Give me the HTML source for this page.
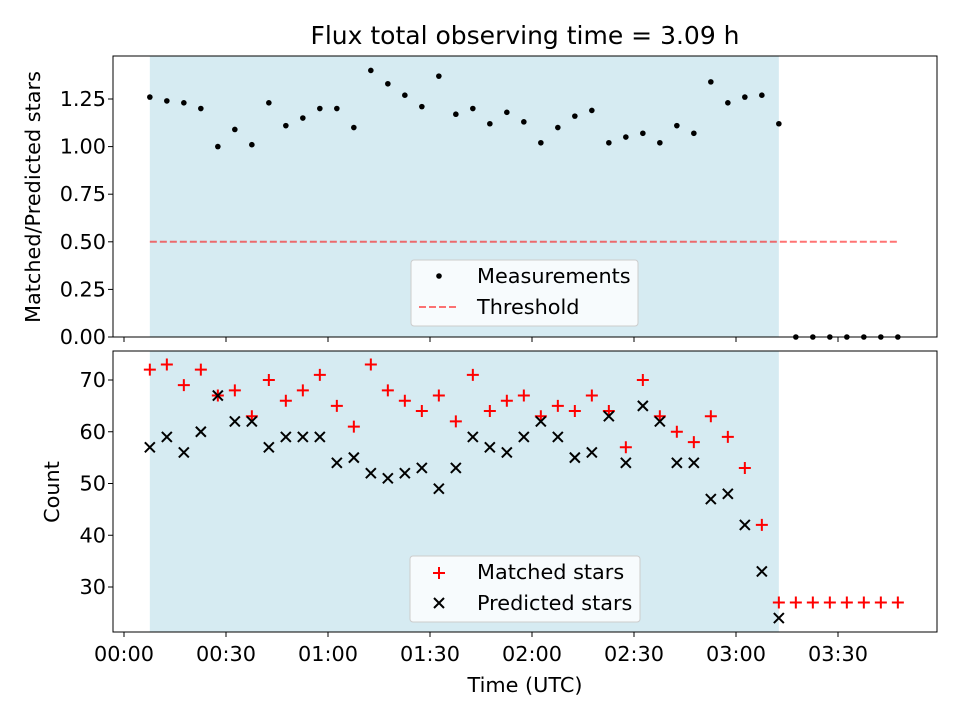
<!DOCTYPE html>
<html><head><meta charset="utf-8"><style>
body{margin:0;background:#fff;}
svg text{font-family:"DejaVu Sans","Liberation Sans",sans-serif;fill:#000;}
</style></head><body>
<svg id="chart" width="960" height="720" xmlns="http://www.w3.org/2000/svg">
<text x="525" y="44" font-size="25" text-anchor="middle">Flux total observing time = 3.09 h</text>
<g id="topAx"></g><g id="botAx"></g>
</svg>
<script>
const ratio = [1.26,1.24,1.23,1.20,1.00,1.09,1.01,1.23,1.11,1.15,1.20,1.20,1.10,1.40,1.33,1.27,1.21,1.37,1.17,1.20,1.12,1.18,1.13,1.02,1.10,1.16,1.19,1.02,1.05,1.07,1.02,1.11,1.07,1.34,1.23,1.26,1.27,1.12,0,0,0,0,0,0,0];
const matched = [72,73,69,72,67,68,63,70,66,68,71,65,61,73,68,66,64,67,62,71,64,66,67,63,65,64,67,64,57,70,63,60,58,63,59,53,42,27,27,27,27,27,27,27,27];
const predicted = [57,59,56,60,67,62,62,57,59,59,59,54,55,52,51,52,53,49,53,59,57,56,59,62,59,55,56,63,54,65,62,54,54,47,48,42,33,24];
const xTickLabels = ["00:00","00:30","01:00","01:30","02:00","02:30","03:00","03:30"];
const topTicks = [0,0.25,0.5,0.75,1.0,1.25];
const botTicks = [30,40,50,60,70];
const startMin = 7.6, stepMin = 5, shadeEndIdx = 37, threshold = 0.5;

const NS="http://www.w3.org/2000/svg";
const FS=20.8;
function mk(p,t,a){const e=document.createElementNS(NS,t);for(const k in a)e.setAttribute(k,a[k]);p.appendChild(e);return e;}
const X=m=>124+m*102/30;
const Yt=v=>337-v*190.4;
const Yb=v=>587-(v-30)*5.175;
const L=113,R=937;
const topG=document.getElementById('topAx'), botG=document.getElementById('botAx');
function frame(g,y0,y1,nm){
  const s=mk(g,'rect',{x:X(startMin),y:y0,width:X(startMin+shadeEndIdx*stepMin)-X(startMin),height:y1-y0,fill:'#add8e6','fill-opacity':0.5});
  
  
  const f=mk(g,'rect',{x:L,y:y0,width:R-L,height:y1-y0,fill:'none',stroke:'#000','stroke-width':1});
  
  
  xTickLabels.forEach((t,i)=>{const x=X(i*30);mk(g,'line',{x1:x,x2:x,y1:y1,y2:y1+5,stroke:'#000'});});
}
frame(topG,56,337,'top');frame(botG,351,632,'bottom');
topTicks.forEach(v=>{const y=Yt(v);mk(topG,'line',{x1:L-5,x2:L,y1:y,y2:y,stroke:'#000'});
  const t=mk(topG,'text',{x:L-7,y:y+7,'font-size':FS,'text-anchor':'end'});t.textContent=v.toFixed(2);
  
  });
botTicks.forEach(v=>{const y=Yb(v);mk(botG,'line',{x1:L-5,x2:L,y1:y,y2:y,stroke:'#000'});
  const t=mk(botG,'text',{x:L-7,y:y+7,'font-size':FS,'text-anchor':'end'});t.textContent=v;
  
  });
xTickLabels.forEach((s,i)=>{const t=mk(botG,'text',{x:X(i*30),y:661,'font-size':FS,'text-anchor':'middle'});t.textContent=s;
  
  });
const thr=mk(topG,'line',{x1:X(startMin),x2:X(startMin+(ratio.length-1)*stepMin),y1:Yt(threshold),y2:Yt(threshold),stroke:'#ff0000','stroke-opacity':0.55,'stroke-width':2,'stroke-dasharray':'7,3'});


ratio.forEach((v,i)=>{const c=mk(topG,'circle',{cx:X(startMin+i*stepMin),cy:Yt(v),r:2.8,fill:'#000'});
  
  });
function plus(g,x,y){return mk(g,'path',{d:`M${x-6},${y}H${x+6}M${x},${y-6}V${y+6}`,stroke:'#ff0000','stroke-width':2});}
function cross(g,x,y){return mk(g,'path',{d:`M${x-5},${y-5}L${x+5},${y+5}M${x-5},${y+5}L${x+5},${y-5}`,stroke:'#000','stroke-width':2});}
matched.forEach((v,i)=>{const p=plus(botG,X(startMin+i*stepMin),Yb(v));
  
  });
predicted.forEach((v,i)=>{const p=cross(botG,X(startMin+i*stepMin),Yb(v));
  
  });
const lg1=mk(topG,'rect',{x:411,y:260,width:227,height:66,fill:'#fff','fill-opacity':0.8,stroke:'#ccc',rx:3});


mk(topG,'circle',{cx:439,cy:276,r:2.8,fill:'#000'});
mk(topG,'line',{x1:419,x2:459,y1:307,y2:307,stroke:'#ff0000','stroke-opacity':0.55,'stroke-width':2,'stroke-dasharray':'7,3'});
let t=mk(topG,'text',{x:477,y:283,'font-size':FS});t.textContent='Measurements';


t=mk(topG,'text',{x:477,y:314,'font-size':FS});t.textContent='Threshold';


const lg2=mk(botG,'rect',{x:410,y:556,width:230,height:66,fill:'#fff','fill-opacity':0.8,stroke:'#ccc',rx:3});


plus(botG,439,573);cross(botG,439,603);
t=mk(botG,'text',{x:477,y:579,'font-size':FS});t.textContent='Matched stars';


t=mk(botG,'text',{x:477,y:610,'font-size':FS});t.textContent='Predicted stars';


t=mk(botG,'text',{x:525,y:692,'font-size':FS,'text-anchor':'middle'});t.textContent='Time (UTC)';


t=mk(topG,'text',{x:40,y:197,'font-size':FS,'text-anchor':'middle',transform:'rotate(-90 40 197)'});t.textContent='Matched/Predicted stars';


t=mk(botG,'text',{x:59,y:492,'font-size':FS,'text-anchor':'middle',transform:'rotate(-90 59 492)'});t.textContent='Count';


</script>
</body></html>
